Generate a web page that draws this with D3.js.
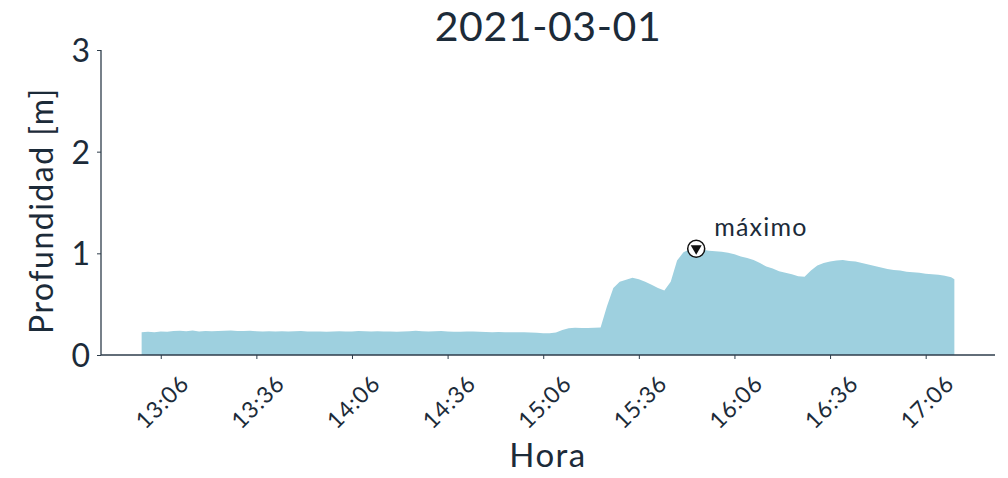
<!DOCTYPE html>
<html>
<head>
<meta charset="utf-8">
<script src="https://cdn.jsdelivr.net/npm/d3@7"></script>
<style>
  body { margin: 0; background: #fff; }
  text { font-family: Lato, "Open Sans", sans-serif; fill: #1c2b39; }
</style>
</head>
<body>
<script>
let width = 1008
let height = 478
let margin = { top: 50, right: 13, bottom: 123, left: 101 }

const day = "2021-03-01"

// reading times (HH:MM)
const times = [
  "13:00","13:02","13:04","13:06","13:08","13:10","13:12","13:14","13:16","13:18",
  "13:20","13:22","13:24","13:26","13:28","13:30","13:32","13:34","13:36","13:38",
  "13:40","13:42","13:44","13:46","13:48","13:50","13:52","13:54","13:56","13:58",
  "14:00","14:02","14:04","14:06","14:08","14:10","14:12","14:14","14:16","14:18",
  "14:20","14:22","14:24","14:26","14:28","14:30","14:32","14:34","14:36","14:38",
  "14:40","14:42","14:44","14:46","14:48","14:50","14:52","14:54","14:56","14:58",
  "15:00","15:02","15:04","15:06","15:08","15:10","15:12","15:14","15:16","15:18",
  "15:20","15:22","15:24","15:26","15:28","15:30","15:32","15:34","15:36","15:38",
  "15:40","15:42","15:44","15:46","15:48","15:50","15:52","15:54","15:56","15:58",
  "16:00","16:02","16:04","16:06","16:08","16:10","16:12","16:14","16:16","16:18",
  "16:20","16:22","16:24","16:26","16:28","16:30","16:32","16:34","16:36","16:38",
  "16:40","16:42","16:44","16:46","16:48","16:50","16:52","16:54","16:56","16:58",
  "17:00","17:02","17:04","17:06","17:08","17:10","17:12","17:14","17:15"
]

// depth [m]
const depth = [
  0.225,0.228,0.224,0.231,0.229,0.236,0.238,0.233,0.241,0.232,
  0.235,0.233,0.236,0.238,0.240,0.237,0.236,0.239,0.234,0.231,
  0.233,0.232,0.234,0.231,0.233,0.235,0.232,0.230,0.231,0.229,
  0.231,0.233,0.230,0.232,0.236,0.233,0.231,0.234,0.232,0.230,
  0.229,0.232,0.234,0.238,0.234,0.231,0.233,0.235,0.232,0.229,
  0.228,0.230,0.232,0.229,0.226,0.224,0.227,0.225,0.223,0.225,
  0.224,0.221,0.219,0.215,0.214,0.222,0.245,0.262,0.268,0.266,
  0.265,0.267,0.270,0.480,0.660,0.720,0.740,0.760,0.745,0.720,
  0.690,0.660,0.635,0.720,0.930,1.010,1.040,1.045,1.035,1.025,
  1.020,1.015,1.005,0.990,0.970,0.955,0.935,0.905,0.870,0.850,
  0.825,0.810,0.795,0.775,0.770,0.830,0.880,0.905,0.920,0.930,
  0.935,0.925,0.920,0.905,0.890,0.875,0.860,0.845,0.835,0.830,
  0.820,0.815,0.810,0.800,0.795,0.790,0.780,0.765,0.745
]

const tickLabels = ["13:06","13:36","14:06","14:36","15:06","15:36","16:06","16:36","17:06"]
const yTicks = [0, 1, 2, 3]

const parse = d3.timeParse("%Y-%m-%d %H:%M")
const data = times.map((t, i) => ({ t: parse(day + " " + t), v: depth[i] }))

const innerW = width - margin.left - margin.right
const innerH = height - margin.top - margin.bottom

const svg = d3.select("body")
  .append("svg")
  .attr("width", width)
  .attr("height", height)

const g = svg.append("g")
  .attr("transform", `translate(${margin.left},${margin.top})`)

// matplotlib-like 5% margin on the time range
const t0 = data[0].t, t1 = data[data.length - 1].t
const pad = (t1 - t0) * 0.05
const x = d3.scaleTime()
  .domain([new Date(+t0 - pad), new Date(+t1 + pad)])
  .range([0, innerW])

const y = d3.scaleLinear()
  .domain([0, 3])
  .range([innerH, 0])

// area
g.append("path")
  .datum(data)
  .attr("fill", "#9ed0df")
  .attr("d", d3.area()
    .x(d => x(d.t))
    .y0(y(0))
    .y1(d => y(d.v)))

// axes
const axisColor = "#2e3d4b"

const yAxis = g.append("g")
  .call(d3.axisLeft(y).tickValues(yTicks).tickSize(4).tickPadding(7).tickFormat(d3.format("d")))
yAxis.select(".domain").attr("stroke", axisColor).attr("stroke-width", 1.3).attr("d", `M0,${innerH}V0`)
yAxis.selectAll(".tick line").attr("stroke", axisColor)
yAxis.selectAll(".tick text").style("font-size", "32px").attr("dy", "0.36em")

const xAxis = g.append("g")
  .attr("transform", `translate(0,${innerH})`)
  .call(d3.axisBottom(x)
    .tickValues(tickLabels.map(s => parse(day + " " + s)))
    .tickSize(4)
    .tickFormat(d3.timeFormat("%H:%M")))
xAxis.select(".domain").attr("stroke", axisColor).attr("stroke-width", 1.3).attr("d", `M0,0H${innerW}`)
xAxis.selectAll(".tick line").attr("stroke", axisColor)
xAxis.selectAll(".tick text")
  .style("font-size", "23px")
  .style("letter-spacing", "1px")
  .attr("text-anchor", "middle")
  .attr("y", 0)
  .attr("dy", "0.35em")
  .attr("transform", "translate(1,47) rotate(-45)")

// labels
svg.append("text")
  .attr("x", margin.left + innerW / 2)
  .attr("y", 41)
  .attr("text-anchor", "middle")
  .style("font-size", "41px")
  .style("letter-spacing", "0.6px")
  .text(day)

svg.append("text")
  .attr("x", margin.left + innerW / 2)
  .attr("y", 467)
  .attr("text-anchor", "middle")
  .style("font-size", "33px")
  .style("letter-spacing", "1.5px")
  .text("Hora")

svg.append("text")
  .attr("transform", `translate(53,${margin.top + innerH / 2 + 8}) rotate(-90)`)
  .attr("text-anchor", "middle")
  .style("font-size", "32px")
  .style("letter-spacing", "1.5px")
  .text("Profundidad [m]")

// max marker
const iMax = d3.maxIndex(data, d => d.v)
const mx = x(data[iMax].t), my = y(data[iMax].v)
const mk = g.append("g").attr("transform", `translate(${mx},${my})`)
mk.append("circle").attr("r", 8.5).attr("fill", "#fff").attr("stroke", "#111").attr("stroke-width", 1.5)
mk.append("path").attr("d", "M-5.5,-3.5L5.5,-3.5L0,6Z").attr("fill", "#111")

g.append("text")
  .attr("x", mx + 18)
  .attr("y", my - 13)
  .style("font-size", "25px")
  .style("letter-spacing", "1.2px")
  .text("máximo")
</script>
</body>
</html>
